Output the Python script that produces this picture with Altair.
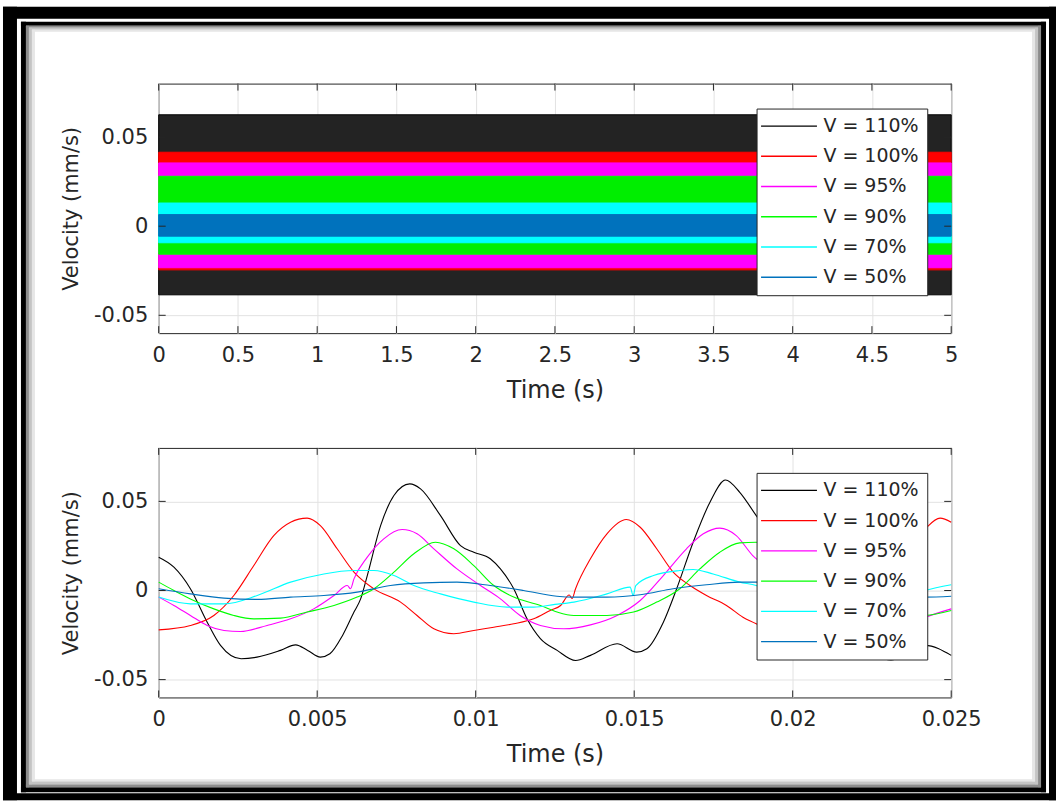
import altair as alt
import pandas as pd

FONT = "DejaVu Sans"
TXT = "#262626"

labels = ["V = 110%", "V = 100%", "V = 95%", "V = 90%", "V = 70%", "V = 50%"]
line_colors = ["#000000", "#ff0000", "#ff00ff", "#00ff00", "#00ffff", "#0072bd"]
band_colors = ["#232323", "#ff0000", "#ff00ff", "#00ee00", "#00ffff", "#0072bd"]

# ---- top panel (0-5 s): envelope of each oscillating series
top_t = [0, 5]
top_max = [0.0625, 0.0415, 0.0355, 0.028, 0.013, 0.0065]
top_min = [-0.0385, -0.0245, -0.0233, -0.0157, -0.0093, -0.0056]

# ---- bottom panel (0-0.025 s): traces
t110 = [0, 0.00048, 0.001, 0.00153, 0.00195, 0.0026, 0.0031, 0.00384, 0.00432, 0.0047, 0.0051,
        0.0054, 0.0058, 0.00616, 0.00637, 0.00658, 0.007, 0.00742, 0.00792, 0.00826, 0.00889,
        0.00952, 0.00994, 0.01046, 0.01078, 0.0112, 0.01162, 0.01204, 0.01257, 0.01315, 0.01362,
        0.01446, 0.01508, 0.0154, 0.01592, 0.01634, 0.01686, 0.01739, 0.01788, 0.01833, 0.01885,
        0.0195, 0.0199, 0.0205, 0.0208, 0.0212, 0.0216, 0.022, 0.0226, 0.0231, 0.0236, 0.02418, 0.025]
v110 = [0.0187, 0.0131, 0.001, -0.0178, -0.0308, -0.0383, -0.0374, -0.0336, -0.0305, -0.0336, -0.0374,
        -0.0355, -0.0252, -0.0121, -0.0047, 0.0084, 0.0364, 0.0533, 0.0598, 0.057, 0.042,
        0.0252, 0.0215, 0.0178, 0.0121, 0.001, -0.0159, -0.027, -0.0336, -0.0393, -0.0364,
        -0.0299, -0.0346, -0.0327, -0.0178, 0.001, 0.0271, 0.0495, 0.062, 0.0551, 0.042,
        0.026, 0.022, 0.018, 0.012, 0.001, -0.016, -0.028, -0.036, -0.039, -0.036, -0.0308, -0.0364]

t100 = [0, 0.001, 0.00174, 0.00237, 0.003, 0.00363, 0.00416, 0.00468, 0.0051, 0.00563, 0.00616,
        0.00679, 0.00763, 0.00815, 0.00868, 0.00931, 0.00994, 0.01057, 0.0112, 0.01183, 0.01235,
        0.01268, 0.01295, 0.01304, 0.01315, 0.01362, 0.01414, 0.01475, 0.01519, 0.01571, 0.01623,
        0.01676, 0.01728, 0.01791, 0.01843, 0.01885, 0.0193, 0.0203, 0.0213, 0.022, 0.0225, 0.0229,
        0.0234, 0.02418, 0.02465, 0.025]
v100 = [-0.0221, -0.0196, -0.014, -0.0028, 0.014, 0.0308, 0.0383, 0.0406, 0.0364, 0.0234, 0.0103,
        0.0009, -0.0065, -0.014, -0.0215, -0.0243, -0.0224, -0.0206, -0.0187, -0.0159, -0.0112,
        -0.0084, -0.0025, -0.0045, 0.001, 0.0178, 0.0318, 0.0398, 0.0355, 0.0234, 0.0103,
        0.0028, -0.0028, -0.0084, -0.015, -0.0187, -0.0235, -0.0215, -0.019, -0.016, -0.01, 0.0,
        0.016, 0.0346, 0.0406, 0.0383]

t95 = [0, 0.00048, 0.001, 0.00153, 0.00206, 0.00258, 0.00342, 0.00416, 0.00489, 0.00553, 0.00595,
       0.00605, 0.00616, 0.00658, 0.0071, 0.00768, 0.00815, 0.00868, 0.00941, 0.01015, 0.01078,
       0.0114, 0.01204, 0.01278, 0.01362, 0.01446, 0.01519, 0.01592, 0.01665, 0.01718, 0.0177,
       0.01822, 0.01874, 0.0193, 0.0201, 0.0208, 0.0214, 0.022, 0.0227, 0.0235, 0.02418, 0.025]
v95 = [-0.0037, -0.0084, -0.014, -0.0196, -0.0224, -0.023, -0.0196, -0.0159, -0.0103, -0.0028, 0.0028,
       0.001, 0.0065, 0.0187, 0.029, 0.0342, 0.0318, 0.0234, 0.0121, 0.0028, -0.0047,
       -0.014, -0.0196, -0.0215, -0.0193, -0.014, -0.0056, 0.0084, 0.0234, 0.0318, 0.035,
       0.0308, 0.0196, 0.012, 0.003, -0.005, -0.012, -0.018, -0.021, -0.02, -0.015, -0.0103]

t90 = [0, 0.00048, 0.001, 0.00174, 0.00237, 0.003, 0.00384, 0.00468, 0.00553, 0.00626, 0.00679,
       0.00742, 0.00805, 0.00873, 0.00931, 0.00994, 0.01057, 0.0112, 0.01204, 0.01257, 0.0131,
       0.01414, 0.01498, 0.01571, 0.01644, 0.01707, 0.0177, 0.01833, 0.01885, 0.0193, 0.0199,
       0.0206, 0.0212, 0.022, 0.0226, 0.0233, 0.02418, 0.025]
v90 = [0.0047, 0.0, -0.0047, -0.0103, -0.014, -0.0159, -0.0155, -0.0121, -0.0084, -0.0037, 0.001,
       0.0103, 0.0206, 0.0271, 0.0234, 0.014, 0.0028, -0.0037, -0.0084, -0.0121, -0.014,
       -0.014, -0.0121, -0.0065, 0.001, 0.0121, 0.0215, 0.0267, 0.0271, 0.0234, 0.014,
       0.003, -0.004, -0.008, -0.012, -0.0145, -0.014, -0.0112]

t70 = [0, 0.001, 0.00206, 0.00311, 0.00416, 0.00521, 0.00616, 0.00679, 0.00742, 0.00805, 0.00889,
       0.00994, 0.01099, 0.01183, 0.0125, 0.0131, 0.01414, 0.01487, 0.01497, 0.01505, 0.01561,
       0.01644, 0.01686, 0.01749, 0.01833, 0.01885, 0.0195, 0.0205, 0.0215, 0.0225, 0.0235,
       0.02418, 0.025]
v70 = [-0.0037, -0.0075, -0.0075, -0.0028, 0.0047, 0.0093, 0.0112, 0.0112, 0.0084, 0.0028, -0.0019,
       -0.0065, -0.0093, -0.0093, -0.0078, -0.0065, -0.0019, 0.0019, -0.0028, 0.0028, 0.0084,
       0.0112, 0.0118, 0.0093, 0.0047, 0.0028, -0.002, -0.006, -0.009, -0.008, -0.004,
       0.0, 0.0032]

t50 = [0, 0.001, 0.00206, 0.00311, 0.00416, 0.00521, 0.00626, 0.00731, 0.00836, 0.00941, 0.01046,
       0.01151, 0.01256, 0.0131, 0.01414, 0.01519, 0.01623, 0.01728, 0.01833, 0.0195, 0.021,
       0.0225, 0.02418, 0.025]
v50 = [0.001, -0.0019, -0.0043, -0.005, -0.0037, -0.0028, -0.0009, 0.0028, 0.0043, 0.0047, 0.0028,
       0.0, -0.0032, -0.0037, -0.0037, -0.0024, 0.001, 0.0032, 0.0047, 0.0047, 0.003,
       0.0, -0.0037, -0.0032]

bottom_t = [t110, t100, t95, t90, t70, t50]
bottom_v = [v110, v100, v95, v90, v70, v50]

top_xticks = [0, 0.5, 1, 1.5, 2, 2.5, 3, 3.5, 4, 4.5, 5]
bot_xticks = [0, 0.005, 0.01, 0.015, 0.02, 0.025]
yticks = [-0.05, 0, 0.05]
Y_DOMAIN = [-0.06, 0.08]

W, H = 794, 250
OX, OY = 158, 82   # page position of the top plot area

# decorative picture frame (page pixel coordinates)
frame_strips = [
    # outer thick black border
    (2, 16, 5, 800, "#000000"), (1050, 1057, 5, 800, "#000000"),
    (2, 1057, 5, 17, "#000000"), (2, 1057, 793, 800, "#000000"),
    # inner thin black border
    (20, 25, 20, 792, "#000000"), (1042, 1047, 20, 792, "#000000"),
    (20, 1047, 20, 24, "#000000"), (20, 1047, 787, 792, "#000000"),
    # soft inner shadow
    (25, 28, 24, 787, "#8c8c8c"), (1039, 1042, 24, 787, "#8c8c8c"),
    (25, 1042, 24, 26, "#8c8c8c"), (25, 1042, 784, 787, "#8c8c8c"),
    (28, 31, 26, 784, "#c4c4c4"), (1036, 1039, 26, 784, "#c4c4c4"),
    (28, 1039, 26, 28, "#c4c4c4"), (28, 1039, 781, 784, "#c4c4c4"),
    (31, 34, 28, 781, "#e6e6e6"), (1033, 1036, 28, 781, "#e6e6e6"),
    (31, 1036, 28, 30, "#e6e6e6"), (31, 1036, 779, 781, "#e6e6e6"),
]
frame_df = pd.DataFrame(
    [{"x": a - OX, "x2": b - OX, "y": c - OY, "y2": d - OY, "c": col}
     for a, b, c, d, col in frame_strips]
)

y_label_expr = "datum.value < 0 ? '-' + format(-datum.value, '~g') : format(datum.value, '~g')"


def make_legend():
    return alt.Legend(
        orient="none", legendX=599, legendY=25, title=None,
        symbolType="M-4,0H4", symbolSize=196, symbolOffset=15, labelOffset=25,
        symbolStrokeWidth=1.3, labelFont=FONT, labelFontSize=19, labelColor=TXT,
        fillColor="white", strokeColor=TXT, padding=8, rowPadding=10.3, labelLimit=300,
    )


def axes(xticks):
    xa = alt.Axis(values=xticks, format="~g", title="Time (s)", grid=True, ticks=False,
                  domain=False, labelFlush=False, labelOverlap=False, labelPadding=11,
                  titlePadding=13, titleFontSize=24)
    ya = alt.Axis(values=yticks, labelExpr=y_label_expr, title="Velocity (mm/s)", grid=True,
                  ticks=False, domain=False, labelPadding=11, titlePadding=12, titleFontSize=21)
    return xa, ya


def tick_layers(xticks, xs, ys, xa, ya):
    xdf = pd.DataFrame({"t": xticks})
    ydf = pd.DataFrame({"v": yticks})
    out = []
    for y0, y1 in [(0, 7), (H, H - 7)]:
        out.append(alt.Chart(xdf).mark_rule(color=TXT, strokeWidth=1).encode(
            x=alt.X("t:Q", scale=xs, axis=xa), y=alt.value(y0), y2=alt.value(y1)))
    for x0, x1 in [(0, 7), (W, W - 7)]:
        out.append(alt.Chart(ydf).mark_rule(color=TXT, strokeWidth=1).encode(
            y=alt.Y("v:Q", scale=ys, axis=ya), x=alt.value(x0), x2=alt.value(x1)))
    return out


stroke_scale = alt.Scale(domain=labels, range=line_colors)
fill_scale = alt.Scale(domain=labels, range=band_colors)

# ---------------- top panel
xs_top = alt.Scale(domain=[0, 5], nice=False, zero=False)
ys = alt.Scale(domain=Y_DOMAIN, nice=False, zero=False)
xa_top, ya_top = axes(top_xticks)

frame_layer = alt.Chart(frame_df).mark_rect().encode(
    x=alt.X("x:Q", scale=None), x2="x2:Q",
    y=alt.Y("y:Q", scale=None), y2="y2:Q",
    color=alt.Color("c:N", scale=None, legend=None),
)

top_layers = [frame_layer]
leg_top = make_legend()
for lab, hi, lo in zip(labels, top_max, top_min):
    df = pd.DataFrame({"t": top_t, "v": [lo] * len(top_t), "v2": [hi] * len(top_t),
                       "s": [lab] * len(top_t)})
    top_layers.append(
        alt.Chart(df).mark_area(strokeWidth=1, opacity=1).encode(
            x=alt.X("t:Q", scale=xs_top, axis=xa_top),
            y=alt.Y("v:Q", scale=ys, axis=ya_top),
            y2="v2:Q",
            fill=alt.Fill("s:N", scale=fill_scale, legend=leg_top),
            stroke=alt.Stroke("s:N", scale=stroke_scale, legend=leg_top),
        )
    )
top_layers += tick_layers(top_xticks, xs_top, ys, xa_top, ya_top)
top = alt.layer(*top_layers).properties(width=W, height=H)

# ---------------- bottom panel
xs_bot = alt.Scale(domain=[0, 0.025], nice=False, zero=False)
xa_bot, ya_bot = axes(bot_xticks)
leg_bot = make_legend()
bot_layers = []
for lab, tt, vv in zip(labels, bottom_t, bottom_v):
    df = pd.DataFrame({"t": tt, "v": vv, "s": [lab] * len(tt)})
    bot_layers.append(
        alt.Chart(df).mark_line(strokeWidth=1.1, interpolate="monotone").encode(
            x=alt.X("t:Q", scale=xs_bot, axis=xa_bot),
            y=alt.Y("v:Q", scale=ys, axis=ya_bot),
            stroke=alt.Stroke("s:N", scale=stroke_scale, legend=leg_bot),
        )
    )
bot_layers += tick_layers(bot_xticks, xs_bot, ys, xa_bot, ya_bot)
bottom = alt.layer(*bot_layers).properties(width=W, height=H)

chart = (
    alt.vconcat(top, bottom, spacing=115, bounds="flush")
    .resolve_scale(stroke="independent", fill="independent", x="independent")
    .resolve_legend(stroke="independent", fill="independent")
    .properties(padding={"left": 2, "top": 5, "right": 0, "bottom": 5}, background="white")
    .configure(font=FONT)
    .configure_view(stroke=TXT, strokeWidth=1)
    .configure_axis(
        labelFont=FONT, labelFontSize=21, labelColor=TXT,
        titleFont=FONT, titleFontWeight="normal", titleColor=TXT,
        gridColor="#e2e2e2", gridWidth=1,
    )
)

chart.save("out.html", embed_options={"renderer": "svg", "actions": False})
